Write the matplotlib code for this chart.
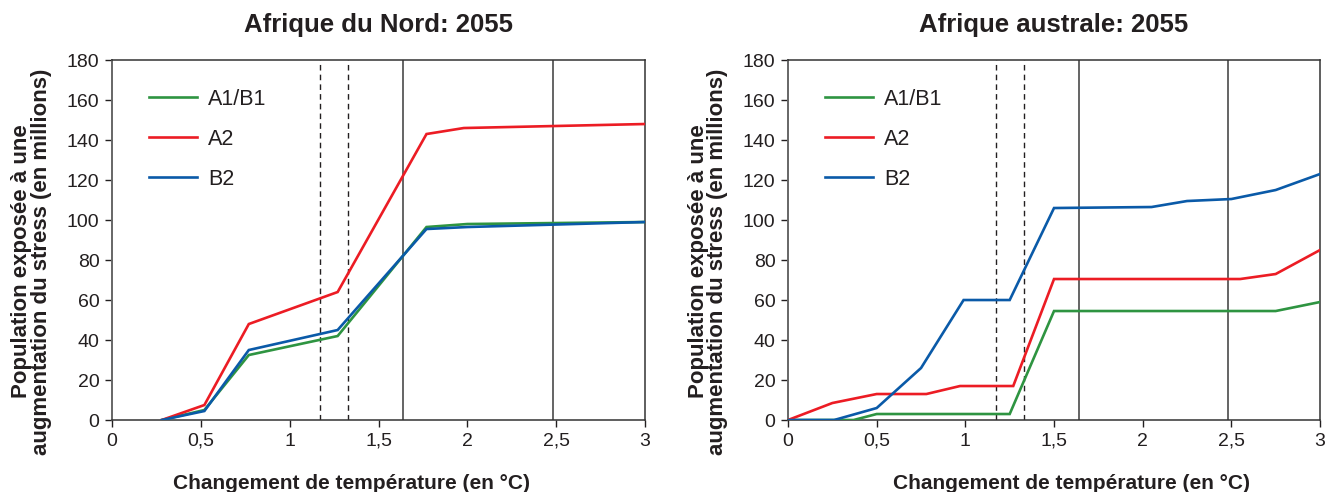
import matplotlib
matplotlib.use("Agg")
import matplotlib.pyplot as plt

# --- data ---
scenarios = ["A1/B1", "A2", "B2"]
colors = {"A1/B1": "#2e9441", "A2": "#ec1c24", "B2": "#0a5aa8"}

nord_x = {
    "A1/B1": [0.28, 0.52, 0.77, 1.27, 1.77, 2.0, 3.0],
    "A2":    [0.28, 0.52, 0.77, 1.27, 1.77, 1.98, 3.0],
    "B2":    [0.28, 0.52, 0.77, 1.27, 1.77, 2.0, 3.0],
}
nord_y = {
    "A1/B1": [0, 5, 32.5, 42, 96.5, 98, 99],
    "A2":    [0, 7.5, 48, 64, 143, 146, 148],
    "B2":    [0, 4.5, 35, 45, 95.5, 96.5, 99],
}
austr_x = {
    "A1/B1": [0, 0.37, 0.5, 1.25, 1.5, 2.75, 3.0],
    "A2":    [0, 0.25, 0.5, 0.78, 0.97, 1.27, 1.5, 2.55, 2.75, 3.0],
    "B2":    [0, 0.26, 0.5, 0.75, 0.99, 1.25, 1.5, 2.05, 2.25, 2.5, 2.75, 3.0],
}
austr_y = {
    "A1/B1": [0, 0, 3, 3, 54.5, 54.5, 59],
    "A2":    [0, 8.5, 13, 13, 17, 17, 70.5, 70.5, 73, 85],
    "B2":    [0, 0, 6, 26, 60, 60, 106, 106.5, 109.5, 110.5, 115, 123],
}
dashed_x = [1.17, 1.33]
solid_x = [1.64, 2.48]
xticks = [0, 0.5, 1, 1.5, 2, 2.5, 3]
xticklabels = ["0", "0,5", "1", "1,5", "2", "2,5", "3"]
yticks = list(range(0, 181, 20))

plt.rcParams.update({"font.family": ["Liberation Sans", "DejaVu Sans"],
                     "text.color": "#231f20"})
INK = "#231f20"

fig = plt.figure(figsize=(13.3, 4.92), dpi=100)
fig.patch.set_facecolor("white")
ax1 = fig.add_axes([0.0842, 0.1463, 0.4008, 0.7317])
ax2 = fig.add_axes([0.5925, 0.1463, 0.4000, 0.7317])

# (axes, title, x data, y data, x-label centre in axes fraction)
panels = [(ax1, "Afrique du Nord: 2055", nord_x, nord_y, 0.450),
          (ax2, "Afrique australe: 2055", austr_x, austr_y, 0.532)]

for ax, title, xs, ys, xlab_pos in panels:
    for v in dashed_x:
        ax.axvline(v, color=INK, lw=1.0, ls=(0, (4, 3)), zorder=1)
    for v in solid_x:
        ax.axvline(v, color="#3a3a3a", lw=1.1, zorder=1)
    for s in scenarios:
        ax.plot(xs[s], ys[s], color=colors[s], lw=1.9, label=s, zorder=3,
                solid_joinstyle="miter")
    ax.set_xlim(0, 3)
    ax.set_ylim(0, 180)
    ax.set_xticks(xticks)
    ax.set_xticklabels(xticklabels)
    ax.set_yticks(yticks)
    ax.tick_params(direction="out", length=5, width=1, colors=INK,
                   labelsize=14, pad=4)
    for sp in ("top", "right", "bottom"):
        ax.spines[sp].set_color("#333333")
        ax.spines[sp].set_linewidth(1.1)
    ax.spines["left"].set_color("#666666")
    ax.spines["left"].set_linewidth(1.4)
    ax.set_title(title, fontsize=18.5, fontweight="bold", color=INK, pad=20)
    ax.set_xlabel("Changement de température (en °C)", fontsize=15,
                  fontweight="bold", color=INK)
    ax.xaxis.set_label_coords(xlab_pos, -0.149)
    ax.set_ylabel("Population exposée à une\naugmentation du stress (en millions)",
                  fontsize=16, fontweight="bold", color=INK, linespacing=0.9)
    ax.yaxis.set_label_coords(-0.113, 0.44)
    leg = ax.legend(loc="upper left", bbox_to_anchor=(0.069, 0.92), frameon=False,
                    fontsize=15.5, handlelength=2.25, handletextpad=0.5,
                    labelspacing=0.88, borderaxespad=0, borderpad=0)
    for t in leg.get_texts():
        t.set_color(INK)

fig.savefig("out.png", dpi=100, facecolor="white")
